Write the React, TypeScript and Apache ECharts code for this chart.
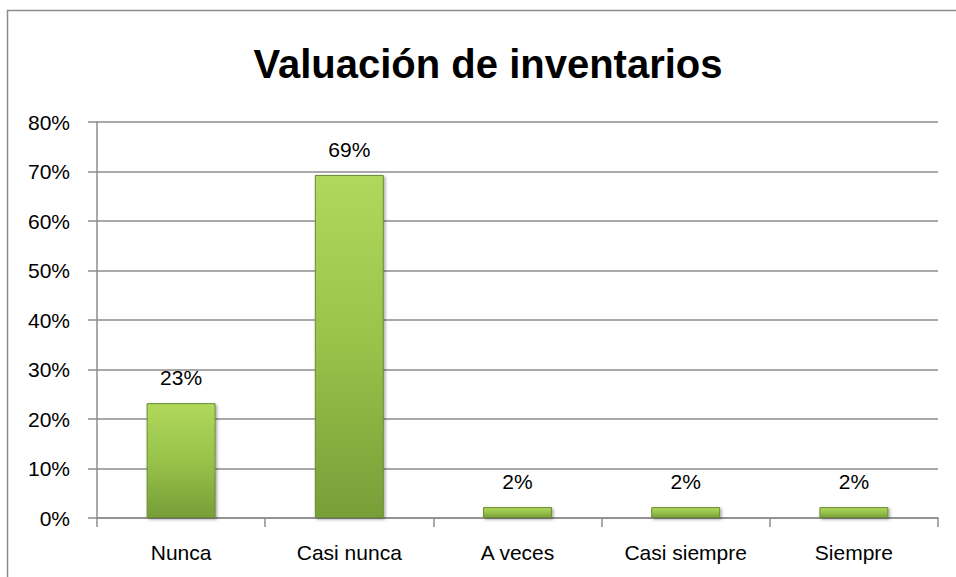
import React, { useEffect, useRef } from "react";
import * as echarts from "echarts";

const titleText = "Valuación de inventarios";
const categories = ["Nunca", "Casi nunca", "A veces", "Casi siempre", "Siempre"];
const values = [23.2, 69.3, 2.2, 2.2, 2.2];
const yTicks = [0, 10, 20, 30, 40, 50, 60, 70, 80];

const FONT = "'Liberation Sans', Arial, sans-serif";

export default function App() {
  const ref = useRef<HTMLDivElement>(null);
  useEffect(() => {
    if (!ref.current) return;
    const chart = echarts.init(ref.current, null, { renderer: "svg" });
    chart.setOption({
      animation: false,
      backgroundColor: "#ffffff",
      title: {
        text: titleText,
        left: 483,
        textAlign: "center",
        top: 38,
        textStyle: {
          fontFamily: FONT,
          fontWeight: "bold",
          fontSize: 40,
          lineHeight: 42,
          color: "#000000",
        },
      },
      graphic: [
        {
          type: "rect",
          shape: { x: 7.5, y: 10.5, width: 980, height: 620 },
          style: { fill: "none", stroke: "#8c8c8c", lineWidth: 1.5 },
          silent: true,
        },
      ],
      grid: { left: 97, right: 18, top: 122, bottom: 59, containLabel: false },
      xAxis: {
        type: "category",
        data: categories,
        boundaryGap: true,
        axisLine: { show: true, lineStyle: { color: "#8c8c8c", width: 1.5 } },
        axisTick: { show: true, length: 9, alignWithLabel: false, lineStyle: { color: "#8c8c8c", width: 1.5 } },
        axisLabel: { fontFamily: FONT, fontSize: 21, color: "#000000", margin: 24 },
        splitLine: { show: false },
      },
      yAxis: {
        type: "value",
        min: yTicks[0],
        max: yTicks[yTicks.length - 1],
        interval: 10,
        axisLine: { show: true, lineStyle: { color: "#8c8c8c", width: 1.5 } },
        axisTick: { show: true, length: 9, lineStyle: { color: "#8c8c8c", width: 1.5 } },
        axisLabel: {
          fontFamily: FONT,
          fontSize: 21,
          color: "#000000",
          margin: 27,
          formatter: (v: number) => `${v}%`,
        },
        splitLine: { show: true, lineStyle: { color: "#8c8c8c", width: 1.5 } },
      },
      series: [
        {
          type: "bar",
          data: values,
          barWidth: "41%",
          itemStyle: {
            color: new echarts.graphic.LinearGradient(0, 0, 0, 1, [
              { offset: 0, color: "#b0d85c" },
              { offset: 0.5, color: "#98c24a" },
              { offset: 1, color: "#789e38" },
            ]),
            borderColor: "#6a8c30",
            borderWidth: 1,
            shadowColor: "rgba(0,0,0,0.35)",
            shadowBlur: 3,
            shadowOffsetX: 1.5,
            shadowOffsetY: 1.5,
          },
          label: {
            show: true,
            position: "top",
            distance: 15,
            fontFamily: FONT,
            fontSize: 21,
            color: "#000000",
            formatter: (p: any) => `${Math.round(p.value)}%`,
          },
        },
      ],
    });
    return () => chart.dispose();
  }, []);
  return (
    <div
      ref={ref}
      style={{ position: "fixed", left: 0, top: 0, width: 956, height: 577 }}
    />
  );
}
